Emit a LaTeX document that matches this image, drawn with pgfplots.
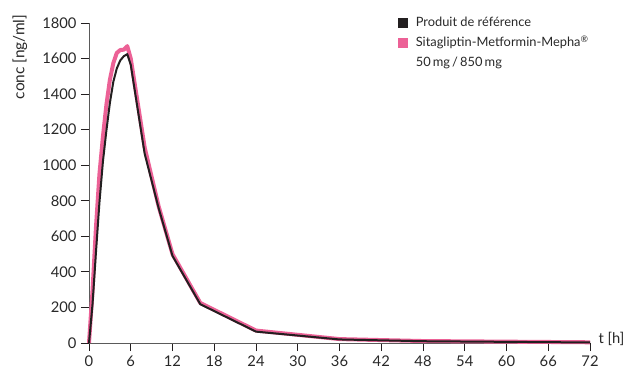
\documentclass[border=0pt]{standalone}
\usepackage{fontspec}
\setmainfont{Lato}
\usepackage{pgfplots}
\pgfplotsset{compat=1.18}
\definecolor{mpink}{RGB}{236,97,150}
\definecolor{mblack}{RGB}{35,31,32}
\definecolor{axgray}{RGB}{90,90,90}
\definecolor{txt}{RGB}{40,40,40}
\begin{document}
\begin{tikzpicture}
\begin{axis}[
  scale only axis,
  width=501bp, height=320bp,
  xmin=0, xmax=72, ymin=0, ymax=1800,
  axis x line=bottom, axis y line=left,
  axis line style={-, axgray, line width=0.9bp},
  tick style={mblack, line width=0.9bp},
  tick align=outside,
  major tick length=8bp,
  xtick={0,6,...,72},
  ytick={0,200,...,1800},
  /pgf/number format/assume math mode=true,
  /pgf/number format/1000 sep={},
  ticklabel style={font=\fontsize{14.8}{17}\selectfont, text=txt},
  yticklabel style={xshift=-1bp},
  xticklabel style={yshift=-1bp},
  ylabel={conc [ng/ml]},
  ylabel style={at={(axis description cs:-0.138,0.894)}, anchor=center, rotate=0, font=\fontsize{15.5}{17}\selectfont, text=txt},
  xlabel={t [h]},
  xlabel style={at={(axis description cs:1,0)}, anchor=west, xshift=5bp, yshift=4bp, font=\fontsize{14.8}{17}\selectfont, text=txt},
  legend style={draw=none, fill=none, at={(rel axis cs:0.610,1.032)}, anchor=north west,
    font=\fontsize{12.9}{15}\selectfont, text=txt, row sep=3bp, column sep=6bp,
    nodes={inner sep=2bp, text height=10bp, text depth=3bp}},
  legend cell align=left,
  legend image code/.code={\fill[#1] (0bp,-5bp) rectangle (10bp,5bp);},
  clip=false,
]
\addlegendimage{fill=mblack, draw=none}
\addlegendentry{Produit de référence}
\addlegendimage{fill=mpink, draw=none}
\addlegendentry{Sitagliptin-Metformin-Mepha\textsuperscript{\textregistered}}
\addlegendimage{empty legend}
\addlegendentry{50\,mg\,/\,850\,mg}
\addplot[mpink, line width=4bp, line join=round, forget plot] coordinates {
(0,0) (0.5,290) (1,650) (1.5,950) (2,1160) (2.5,1340) (3,1480) (3.5,1575) (4,1632) (4.5,1648) (5,1650) (5.5,1670) (6,1600)
(8,1100) (10,770) (12,500) (16,225) (24,70) (36,22) (48,11) (72,4)};
\addplot[mblack, line width=2bp, line join=round, forget plot] coordinates {
(0,0) (0.5,215) (1,510) (1.5,790) (2,1020) (2.5,1195) (3,1350) (3.5,1470) (4,1545) (4.5,1590) (5,1613) (5.5,1625) (6,1565)
(8,1065) (10,760) (12,490) (16,218) (24,64) (36,20) (48,10) (72,3)};
\end{axis}
\pgfresetboundingbox
\path[use as bounding box] (-89bp,-27bp) rectangle (535bp,343bp);
\end{tikzpicture}
\end{document}
